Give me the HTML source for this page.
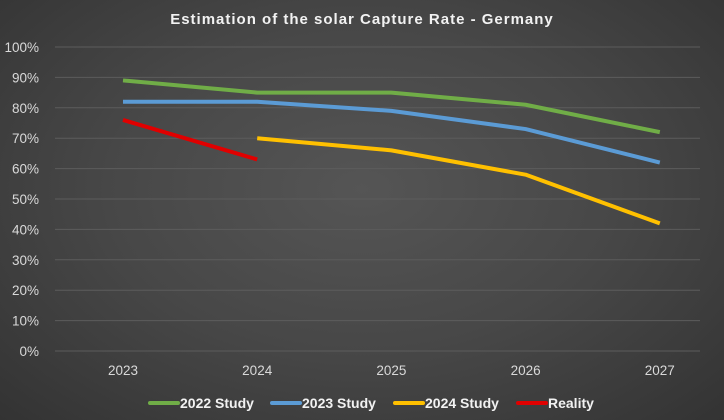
<!DOCTYPE html>
<html><head><meta charset="utf-8"><style>
html,body{margin:0;padding:0;}
body{width:724px;height:420px;overflow:hidden;background:radial-gradient(ellipse at 50% 45%,#555 0%,#474747 50%,#333 100%);font-family:"Liberation Sans",sans-serif;}
svg{display:block}
</style></head><body>
<svg id="chart" width="724" height="420" xmlns="http://www.w3.org/2000/svg">
<text x="362" y="24" text-anchor="middle" fill="#f2f2f2" font-size="15" font-weight="bold" letter-spacing="1">Estimation of the solar Capture Rate - Germany</text>
<g id="grid"></g><g id="xl"></g><g id="series"></g><g id="legend"></g>
</svg>
<script>
const categories=["2023","2024","2025","2026","2027"];
const yTicks=[0,10,20,30,40,50,60,70,80,90,100];
const s2022=[89,85,85,81,72];
const s2023=[82,82,79,73,62];
const s2024=[null,70,66,58,42];
const sReality=[76,63,null,null,null];
const seriesNames=["2022 Study","2023 Study","2024 Study","Reality"];
const seriesColors=["#70ad47","#5b9bd5","#ffc000","#e00000"];
const seriesData=[s2022,s2023,s2024,sReality];
const NS="http://www.w3.org/2000/svg";
const x=i=>123+i*134.2;
const y=v=>351-v*3.04;
function mk(t,a,p){const e=document.createElementNS(NS,t);for(const k in a)e.setAttribute(k,a[k]);p.appendChild(e);return e;}
const grid=document.getElementById('grid');
yTicks.forEach(v=>{
 const l=mk('line',{x1:55,x2:700,y1:y(v),y2:y(v),stroke:'#5c5c5c','stroke-width':1},grid);
 
 
 const t=mk('text',{x:39,y:y(v)+5,'text-anchor':'end',fill:'#d9d9d9','font-size':13.5},grid);
 t.textContent=v+'%';
 
 
});
const xl=document.getElementById('xl');
categories.forEach((c,i)=>{
 const t=mk('text',{x:x(i),y:375,'text-anchor':'middle',fill:'#d9d9d9','font-size':13.5},xl);
 t.textContent=c;
 
 
});
const sg=document.getElementById('series');
seriesData.forEach((d,si)=>{
 const pts=[];d.forEach((v,i)=>{if(v!==null)pts.push(x(i)+','+y(v));});
 const p=mk('polyline',{points:pts.join(' '),fill:'none',stroke:seriesColors[si],'stroke-width':4,'stroke-linejoin':'round'},sg);
 
 
});
const lg=document.getElementById('legend');
const lx=[150,272,395,518];
seriesNames.forEach((n,i)=>{
 const g=mk('g',{},lg);
 
 
 mk('line',{x1:lx[i],x2:lx[i]+28,y1:403,y2:403,stroke:seriesColors[i],'stroke-width':4,'stroke-linecap':'round'},g);
 const t=mk('text',{x:lx[i]+30,y:408,fill:'#f2f2f2','font-size':14,'font-weight':'bold'},g);
 t.textContent=n;
});
</script>
</body></html>
